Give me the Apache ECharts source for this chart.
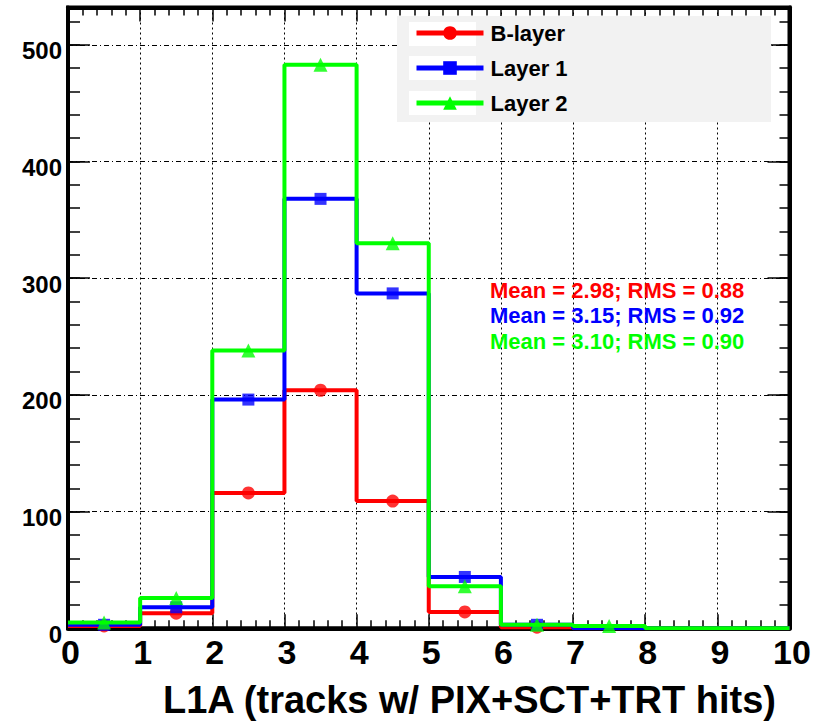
<!DOCTYPE html>
<html>
<head>
<meta charset="utf-8">
<script src="https://cdn.jsdelivr.net/npm/echarts@6/dist/echarts.min.js"></script>
<style>
html,body{margin:0;padding:0;background:#fff;}
#chart{width:823px;height:722px;}
</style>
</head>
<body>
<div id="chart"></div>
<script>
// bin edges 0..10, one value per bin
const binEdges = [0, 1, 2, 3, 4, 5, 6, 7, 8, 9, 10];
const seriesNames = ['B-layer', 'Layer 1', 'Layer 2'];
const bLayer = [2, 13, 116, 204, 109, 14, 1, 0, 0, 0];
const layer1 = [3, 18, 196, 368, 287, 44, 3, 0, 0, 0];
const layer2 = [5, 26, 238, 483, 330, 36, 3, 2, 0, 0];
const statsTexts = ['Mean = 2.98; RMS = 0.88', 'Mean = 3.15; RMS = 0.92', 'Mean = 3.10; RMS = 0.90'];
const xTitle = 'L1A (tracks w/ PIX+SCT+TRT hits)';
const yMax = 532;

const colors = ['#ff0000', '#0000ff', '#00ff00'];
const symbols = ['circle', 'rect', 'triangle'];
const symbolSizes = [13, 12, 14];
const FONT = '"Liberation Sans", Arial, Helvetica, sans-serif';

function stepData(vals) {
  const d = vals.map((v, i) => [binEdges[i], v]);
  d.push([binEdges[binEdges.length - 1], vals[vals.length - 1]]);
  return d;
}
function markerData(vals) {
  const d = [];
  vals.forEach((v, i) => { if (v > 0) d.push([(binEdges[i] + binEdges[i + 1]) / 2, v]); });
  return d;
}

const allVals = [bLayer, layer1, layer2];
const series = [];
allVals.forEach((vals, k) => {
  series.push({
    name: seriesNames[k], type: 'line', step: 'end', data: stepData(vals),
    xAxisIndex: 0, yAxisIndex: 0,
    symbol: symbols[k], symbolSize: symbolSizes[k], showSymbol: false,
    lineStyle: { color: colors[k], width: 4 }, itemStyle: { color: colors[k] },
    z: 3 + k, silent: true
  });
  series.push({
    name: seriesNames[k], type: 'scatter', data: markerData(vals),
    xAxisIndex: 0, yAxisIndex: 0,
    symbol: symbols[k], symbolSize: symbolSizes[k],
    itemStyle: { color: colors[k] }, z: 3 + k, silent: true
  });
});

function axisLine() { return { show: true, onZero: false, lineStyle: { color: '#000', width: 4 } }; }
const noLabel = { show: false };
const noSplit = { show: false };

const option = {
  animation: false,
  backgroundColor: '#fff',
  grid: { left: 68, right: 33.5, top: 7.5, bottom: 93.7, show: true, borderColor: '#000', borderWidth: 4, backgroundColor: 'transparent' },
  legend: {
    data: seriesNames, orient: 'vertical', left: 409, top: 17,
    itemWidth: 67, itemHeight: 17, itemGap: 13,
    lineStyle: { width: 5 },
    textStyle: { fontSize: 22, fontWeight: 'bold', color: '#000', fontFamily: FONT, padding: [0, 0, 0, 2] },
    selectedMode: false, z: 20
  },
  xAxis: [
    {
      type: 'value', min: 0, max: 10, interval: 1, position: 'bottom',
      axisLine: axisLine(),
      axisTick: { show: true, inside: true, length: 14, lineStyle: { color: '#000', width: 1.5 } },
      minorTick: { show: true, splitNumber: 5, length: 8, lineStyle: { color: '#000', width: 1.5 } },
      axisLabel: { show: true, margin: 7, fontSize: 34, fontWeight: 'bold', color: '#000', fontFamily: FONT, padding: [0, 0, 0, 5] },
      splitLine: { show: true, lineStyle: { color: '#000', width: 1, type: [2, 3] } }
    },
    {
      type: 'value', min: 0, max: 10, interval: 1, position: 'top',
      axisLine: axisLine(),
      axisTick: { show: true, inside: true, length: 14, lineStyle: { color: '#000', width: 1.5 } },
      minorTick: { show: true, splitNumber: 5, length: 8, lineStyle: { color: '#000', width: 1.5 } },
      axisLabel: noLabel, splitLine: noSplit
    }
  ],
  yAxis: [
    {
      type: 'value', min: 0, max: yMax, interval: 100, position: 'left',
      axisLine: axisLine(),
      axisTick: { show: true, inside: true, length: 22, lineStyle: { color: '#000', width: 1.5 } },
      axisLabel: { show: true, margin: 6, fontSize: 24, fontWeight: 'bold', color: '#000', fontFamily: FONT, showMaxLabel: false, verticalAlign: 'top', lineHeight: 12 },
      splitLine: { show: true, lineStyle: { color: '#000', width: 1, type: [5, 3, 1, 3] } }
    },
    {
      type: 'value', min: 0, max: yMax, interval: 20, position: 'left',
      axisLine: { show: false, onZero: false },
      axisTick: { show: true, inside: true, length: 12, lineStyle: { color: '#000', width: 1.5 } },
      axisLabel: noLabel, splitLine: noSplit
    },
    {
      type: 'value', min: 0, max: yMax, interval: 100, position: 'right',
      axisLine: axisLine(),
      axisTick: { show: true, inside: true, length: 22, lineStyle: { color: '#000', width: 1.5 } },
      axisLabel: noLabel, splitLine: noSplit
    },
    {
      type: 'value', min: 0, max: yMax, interval: 20, position: 'right',
      axisLine: { show: false, onZero: false },
      axisTick: { show: true, inside: true, length: 10, lineStyle: { color: '#000', width: 1.5 } },
      axisLabel: noLabel, splitLine: noSplit
    }
  ],
  graphic: [
    { type: 'rect', shape: { x: 397, y: 16, width: 374, height: 106 }, style: { fill: '#f2f2f2' }, z: 10 },
    { type: 'rect', shape: { x: 409, y: 22, width: 67, height: 24 }, style: { fill: '#fff' }, z: 11 },
    { type: 'rect', shape: { x: 409, y: 56, width: 67, height: 24 }, style: { fill: '#fff' }, z: 11 },
    { type: 'rect', shape: { x: 409, y: 91, width: 67, height: 24 }, style: { fill: '#fff' }, z: 11 },
    { type: 'text', x: 490, y: 290, style: { text: statsTexts[0], fill: colors[0], font: 'bold 22px ' + FONT, textVerticalAlign: 'middle' }, z: 12 },
    { type: 'text', x: 490, y: 315, style: { text: statsTexts[1], fill: colors[1], font: 'bold 22px ' + FONT, textVerticalAlign: 'middle' }, z: 12 },
    { type: 'text', x: 490, y: 341, style: { text: statsTexts[2], fill: colors[2], font: 'bold 22px ' + FONT, textVerticalAlign: 'middle' }, z: 12 },
    { type: 'text', x: 776, y: 700, style: { text: xTitle, fill: '#000', font: 'bold 38px ' + FONT, textAlign: 'right', textVerticalAlign: 'middle' }, z: 12 }
  ],
  series: series
};

const chart = echarts.init(document.getElementById('chart'), null, { renderer: 'svg', width: 823, height: 722 });
chart.setOption(option);
</script>
</body>
</html>
